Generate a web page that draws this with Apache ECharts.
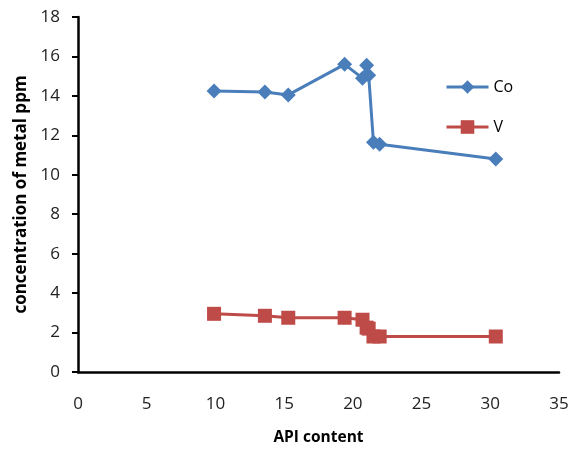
<!DOCTYPE html>
<html><head><meta charset="utf-8">
<script src="https://cdn.jsdelivr.net/npm/echarts@6/dist/echarts.min.js"></script>
<style>html,body{margin:0;padding:0;background:#fff}#c{width:583px;height:454px}</style>
</head><body><div id="c"></div>
<script>
const apiCo = [9.9, 13.6, 15.3, 19.4, 20.7, 21.0, 21.15, 21.5, 21.95, 30.4];
const coValues = [14.25, 14.2, 14.05, 15.6, 14.9, 15.55, 15.05, 11.65, 11.55, 10.8];
const apiV = [9.9, 13.6, 15.3, 19.4, 20.7, 21.0, 21.15, 21.5, 21.95, 30.4];
const vValues = [2.95, 2.85, 2.75, 2.75, 2.65, 2.25, 2.2, 1.8, 1.8, 1.8];
const xTicks = [0, 5, 10, 15, 20, 25, 30, 35];
const yTicks = [0, 2, 4, 6, 8, 10, 12, 14, 16, 18];

const font = "'Open Sans', 'Liberation Sans', sans-serif";
const chart = echarts.init(document.getElementById('c'));
chart.setOption({
  animation: false,
  backgroundColor: '#fff',
  grid: {left: 78, right: 24, top: 17, bottom: 82},
  legend: {
    orient: 'vertical', left: 440, top: 74, itemGap: 24, itemWidth: 42, itemHeight: 17,
    textStyle: {fontFamily: font, fontSize: 16, color: '#000'},
    lineStyle: {width: 3},
    data: ['Co', 'V']
  },
  xAxis: {
    type: 'value', min: xTicks[0], max: xTicks[xTicks.length - 1], interval: 5,
    name: 'API content', nameLocation: 'middle', nameGap: 58,
    nameTextStyle: {fontFamily: font, fontSize: 15.5, fontWeight: 'bold', color: '#000'},
    axisLine: {lineStyle: {color: '#000', width: 2.5}},
    axisTick: {show: false},
    axisLabel: {fontFamily: font, fontSize: 17, color: '#222', margin: 24},
    splitLine: {show: false}
  },
  yAxis: {
    type: 'value', min: yTicks[0], max: yTicks[yTicks.length - 1], interval: 2,
    name: 'concentration of metal ppm', nameLocation: 'middle', nameGap: 45,
    nameTextStyle: {fontFamily: font, fontSize: 17, fontWeight: 'bold', color: '#000'},
    axisLine: {show: true, lineStyle: {color: '#000', width: 2.5}},
    axisTick: {show: true, length: 6, lineStyle: {color: '#000', width: 2}},
    axisLabel: {fontFamily: font, fontSize: 17, color: '#222', margin: 18},
    splitLine: {show: false}
  },
  series: [
    {name: 'Co', type: 'line', symbol: 'diamond', symbolSize: 15,
     color: '#4a7ebb', lineStyle: {width: 3, color: '#4a7ebb'},
     itemStyle: {color: '#4a7ebb'},
     data: apiCo.map((x, i) => [x, coValues[i]])},
    {name: 'V', type: 'line', symbol: 'rect', symbolSize: 14,
     color: '#be4b48', lineStyle: {width: 3, color: '#be4b48'},
     itemStyle: {color: '#be4b48'},
     data: apiV.map((x, i) => [x, vValues[i]])}
  ]
});
</script></body></html>
